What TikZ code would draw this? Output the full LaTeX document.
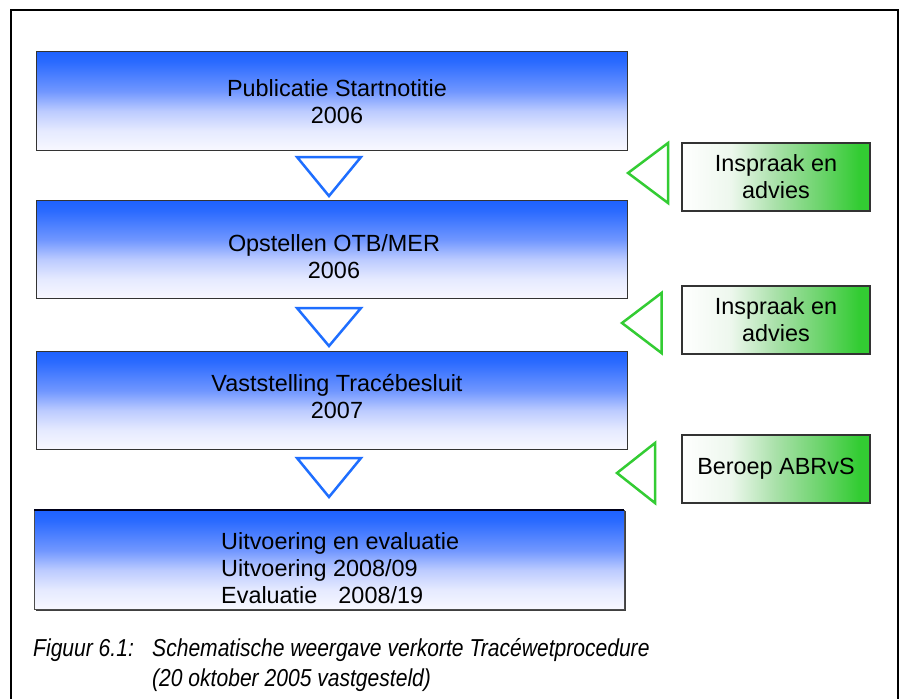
\documentclass[tikz,border=0pt]{standalone}
\usepackage{fontspec}
\setmainfont{Liberation Sans}
\newfontfamily\capfont[FakeStretch=0.86]{Liberation Sans}
\pgfdeclareverticalshading{bluefade}{100bp}{rgb(0bp)=(0.973,0.973,1); rgb(25bp)=(0.973,0.973,1); rgb(35bp)=(0.90,0.918,1); rgb(45bp)=(0.737,0.796,1); rgb(55bp)=(0.44,0.59,1); rgb(70bp)=(0.165,0.416,1); rgb(75bp)=(0.118,0.384,1); rgb(100bp)=(0.118,0.384,1)}
\pgfdeclarehorizontalshading{greenfade}{100bp}{rgb(0bp)=(1,1,1); rgb(25bp)=(1,1,1); rgb(38bp)=(0.93,0.97,0.93); rgb(50bp)=(0.66,0.88,0.66); rgb(62bp)=(0.42,0.83,0.42); rgb(72bp)=(0.2,0.8,0.2); rgb(100bp)=(0.2,0.8,0.2)}
\definecolor{tribl}{RGB}{30,110,255}
\definecolor{trigr}{RGB}{51,204,51}
\tikzset{
  bluebox/.style={rectangle, draw=black!80, line width=1.3pt, shading=bluefade, inner sep=0pt, anchor=north west},
  greenbox/.style={rectangle, draw=black!80, line width=1.2pt, shading=greenfade, inner sep=0pt, minimum width=188, minimum height=68, align=center, font=\fontsize{23.4}{27}\selectfont},
  btxt/.style={inner sep=0pt, align=center, font=\fontsize{23.4}{27}\selectfont},
  bluetri/.style={draw=tribl, line width=2.5pt, line join=miter},
  greentri/.style={draw=trigr, line width=2.5pt, line join=miter},
  captxt/.style={inner sep=0pt, anchor=base west, font=\capfont\itshape\fontsize{24.5}{30}\selectfont}
}
\begin{document}
\begin{tikzpicture}[x=1pt,y=-1pt]
\useasboundingbox (0,0) rectangle (900,699);
\fill[white] (0,0) rectangle (900,699);
\draw[line width=2pt] (11,699) -- (11,10) -- (898,10) -- (898,699);

% blue process boxes
\node[bluebox, minimum width=591, minimum height=99] (b1) at (36,51) {};
\node[bluebox, minimum width=591, minimum height=98] (b2) at (36,200) {};
\node[bluebox, minimum width=591, minimum height=98] (b3) at (36,351) {};
\fill[black!75] (36,511) rectangle (626,610.5);
\node[bluebox, draw=black!70, minimum width=590, minimum height=99] (b4) at (34,510) {};
\draw[black!90!blue, line width=1.3pt] (34,510) -- (624,510);

\node[btxt] (t1) at (337,101.5) {Publicatie Startnotitie\\2006};
\node[btxt] (t2) at (334,256.5) {Opstellen OTB/MER\\2006};
\node[btxt] (t3) at (337,396.5) {Vaststelling Tracébesluit\\2007};
\node[btxt, align=left, anchor=west] (t4) at (221,568) {Uitvoering en evaluatie\\Uitvoering 2008/09\\Evaluatie\hspace{0.9em}2008/19};

% blue down triangles
\draw[bluetri] (297,157) -- (361,157) -- (329,196) -- cycle;
\draw[bluetri] (297,308) -- (361,308) -- (329,346) -- cycle;
\draw[bluetri] (297,458) -- (361,458) -- (329,497) -- cycle;

% green side boxes
\node[greenbox] (g1) at (776,177) {Inspraak en\\advies};
\node[greenbox] (g2) at (776,320) {Inspraak en\\advies};
\node[greenbox] (g3) at (776,469) {Beroep ABRvS};

% green left triangles
\draw[greentri] (628,173) -- (668,143) -- (668,203) -- cycle;
\draw[greentri] (622,323) -- (661.5,293) -- (661.5,353) -- cycle;
\draw[greentri] (617,473) -- (655,443) -- (655,503) -- cycle;

% caption
\node[captxt] (c0) at (33,656) {Figuur 6.1:};
\node[captxt] (c1) at (152,656) {Schematische weergave verkorte Tracéwetprocedure};
\node[captxt] (c2) at (152,686) {(20 oktober 2005 vastgesteld)};
\end{tikzpicture}
\end{document}
